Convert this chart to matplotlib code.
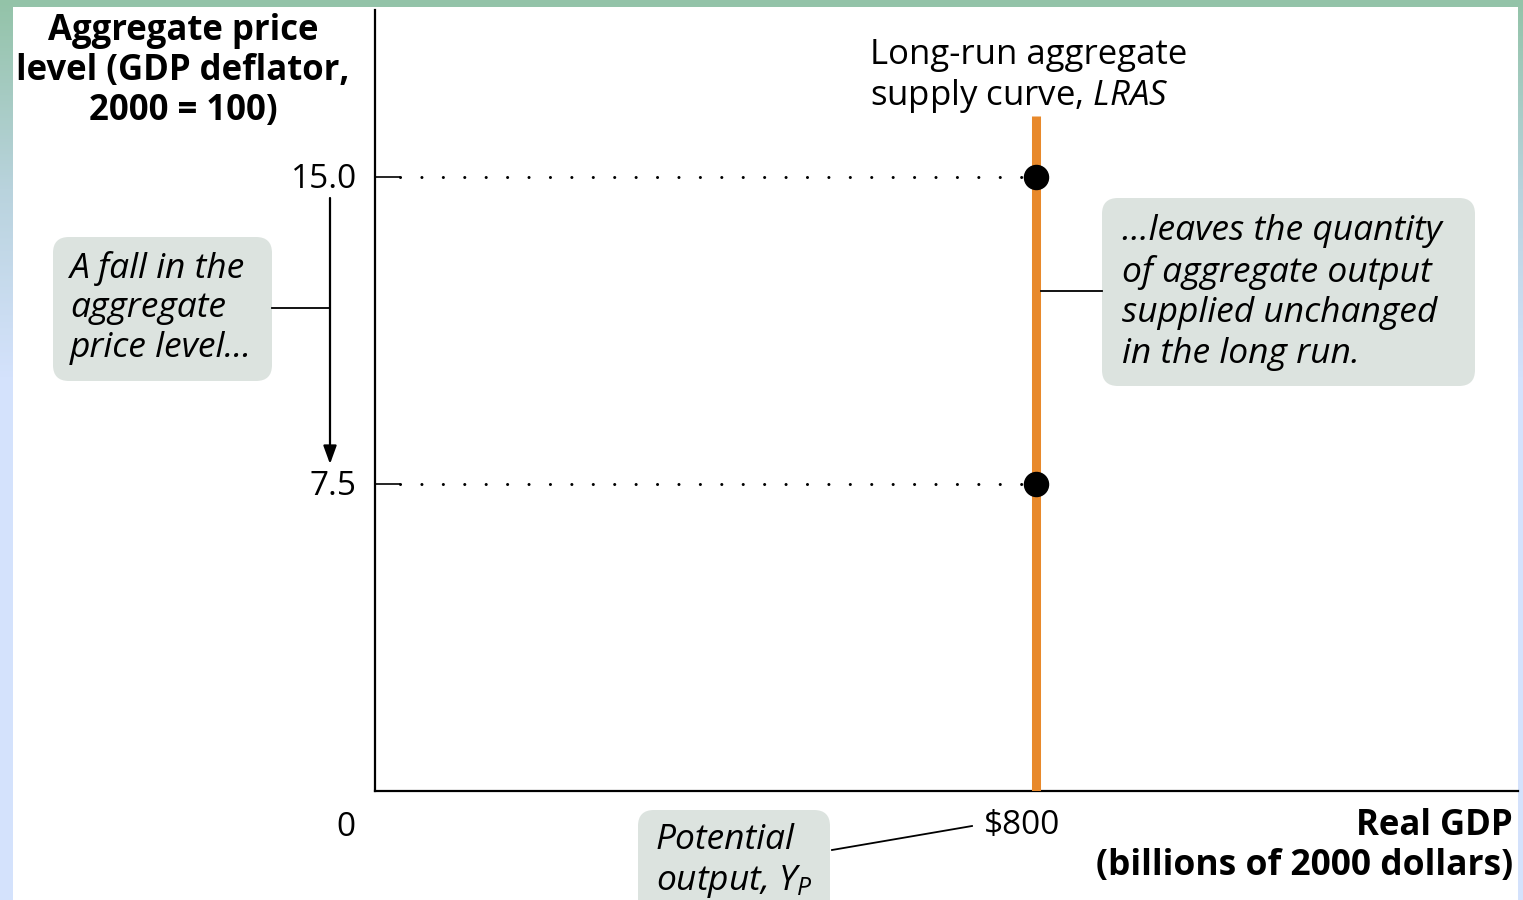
import numpy as np
import matplotlib
matplotlib.use("Agg")
import matplotlib.pyplot as plt
import matplotlib.transforms as mtransforms
from matplotlib.patches import FancyBboxPatch, Rectangle
from matplotlib.colors import LinearSegmentedColormap

# ---- data ----
price_levels = [15.0, 7.5]
price_labels = ["15.0", "7.5"]
potential_output = 800
output_label = "\\$800"
lras_top = 16.5
x_max = 1383
y_max = 19.08

FONT = "Open Sans"
plt.rcParams['font.family'] = [FONT, 'DejaVu Sans']
plt.rcParams['mathtext.fontset'] = 'custom'
plt.rcParams['mathtext.it'] = FONT + ':italic'
plt.rcParams['mathtext.rm'] = FONT

W, H = 1523, 900
fig = plt.figure(figsize=(W / 100, H / 100), dpi=100)

# ---- background frame ----
bg = fig.add_axes([0, 0, 1, 1], zorder=0)
bg.set_xlim(0, W); bg.set_ylim(H, 0); bg.axis('off')
cmap = LinearSegmentedColormap.from_list('fr', ['#93c3a8', '#b9d3dd', '#d4e2fc'])
grad = np.clip(np.linspace(0, 1, 900) / 0.42, 0, 1)[:, None]
bg.imshow(grad, cmap=cmap, extent=[0, W, H, 0], aspect='auto', vmin=0, vmax=1)
bg.add_patch(Rectangle((13, 7), 1518 - 13, H, facecolor='white', edgecolor='none'))

# ---- main axes ----
px = lambda v: v / W
py = lambda v: 1 - v / H
ax = fig.add_axes([px(375), py(791), px(1518 - 375), (791 - 10) / H], zorder=1)
ax.patch.set_alpha(0)
ax.set_xlim(0, x_max)
ax.set_ylim(0, y_max)
for s in ['top', 'right']:
    ax.spines[s].set_visible(False)
for s in ['left', 'bottom']:
    ax.spines[s].set_linewidth(1.6)

TICK_FS = 24
TXT_FS = 25
BOX_FS = 25.5
DY = 3  # vertical nudge for overlay texts (px)

ax.set_yticks(price_levels)
ax.set_yticklabels(price_labels)
ax.tick_params(axis='y', direction='in', length=18, width=1.2, pad=13, labelsize=TICK_FS)
ax.set_xticks([potential_output])
ax.set_xticklabels([output_label])
ax.tick_params(axis='x', length=0, pad=13, labelsize=TICK_FS)
shift = mtransforms.ScaledTranslation(-14 / 100, 0, fig.dpi_scale_trans)
for lab in ax.get_xticklabels():
    lab.set_transform(lab.get_transform() + shift)
yshift = mtransforms.ScaledTranslation(0, 2 / 100, fig.dpi_scale_trans)
for lab in ax.get_yticklabels():
    lab.set_transform(lab.get_transform() + yshift)

# dotted guides
for p in price_levels:
    ax.plot([30, potential_output], [p, p], color='black', lw=2.2,
            linestyle=(0, (0.01, 7)), dash_capstyle='round', zorder=2)

# LRAS
ax.plot([potential_output, potential_output], [0, lras_top], color='#e8892b',
        lw=6.5, solid_capstyle='butt', zorder=3)
ax.scatter([potential_output] * len(price_levels), price_levels, s=300,
           color='black', zorder=4)

ax.annotate("0", xy=(0, 0), xytext=(-21, -26), textcoords='offset points',
            ha='center', va='center', fontsize=TICK_FS)

# ---- overlay annotations in pixel coordinates ----
ov = fig.add_axes([0, 0, 1, 1], zorder=2)
ov.set_xlim(0, W); ov.set_ylim(H, 0); ov.axis('off'); ov.patch.set_alpha(0)

box_c = '#dce3df'
def box(x0, y0, x1, y1):
    ov.add_patch(FancyBboxPatch((x0, y0), x1 - x0, y1 - y0,
                                boxstyle="round,pad=0,rounding_size=16",
                                facecolor=box_c, edgecolor='none'))

def t(x, y, s, **kw):
    ov.text(x, y + DY, s, va='center', **kw)

# titles
for i, line in enumerate(["Aggregate price", "level (GDP deflator,", "2000 = 100)"]):
    t(183, 28 + 40 * i, line, ha='center', fontsize=TXT_FS, fontweight='bold')

t(1513, 823, "Real GDP", ha='right', fontsize=TXT_FS, fontweight='bold')
t(1513, 863, "(billions of 2000 dollars)", ha='right', fontsize=TXT_FS + 0.5, fontweight='bold')

t(870, 52, "Long-run aggregate", ha='left', fontsize=TXT_FS)
t(870, 93, "supply curve, $\\mathit{LRAS}$", ha='left', fontsize=TXT_FS)

# left box
box(53, 237, 272, 381)
for i, line in enumerate(["A fall in the", "aggregate", "price level..."]):
    t(70, 265 + 40 * i, line, ha='left', fontsize=BOX_FS, style='italic')
ov.plot([272, 330], [308, 308], color='black', lw=1.3)
ov.annotate("", xy=(330, 464), xytext=(330, 198),
            arrowprops=dict(arrowstyle='-|>,head_length=1.1,head_width=0.4',
                            color='black', lw=1.6, shrinkA=0, shrinkB=0))

# right box
box(1102, 198, 1475, 386)
for i, line in enumerate(["...leaves the quantity", "of aggregate output",
                          "supplied unchanged", "in the long run."]):
    t(1122, 228 + 41 * i, line, ha='left', fontsize=BOX_FS, style='italic')
ov.plot([1041, 1102], [291, 291], color='black', lw=1.3)

# bottom box
box(638, 810, 830, 930)
t(656, 837, "Potential", ha='left', fontsize=BOX_FS, style='italic')
t(656, 878, "output, $Y_P$", ha='left', fontsize=BOX_FS, style='italic')
ov.plot([832, 972], [850, 826], color='black', lw=1.3)

fig.savefig("out.png", dpi=100)
